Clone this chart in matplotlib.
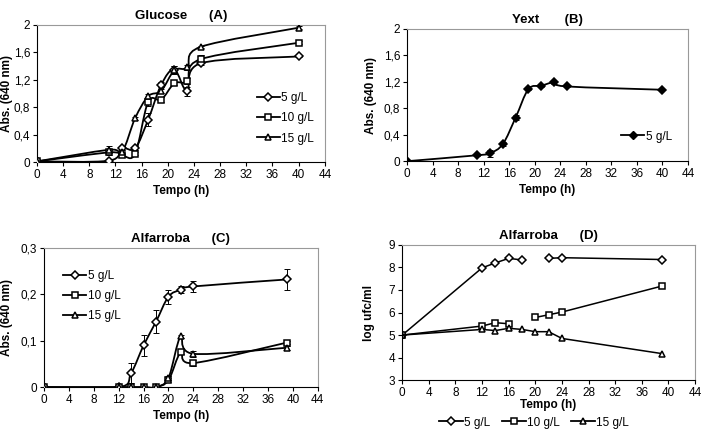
import matplotlib
matplotlib.use('Agg')
import matplotlib.pyplot as plt
import numpy as np
from matplotlib.path import Path
from matplotlib.patches import PathPatch
from matplotlib.lines import Line2D
from matplotlib.ticker import FuncFormatter

plt.rcParams['font.family'] = ['Liberation Sans', 'DejaVu Sans']

# ---------------- dados ----------------
# (A) Glucose
t_a = [0, 11, 13, 15, 17, 19, 21, 23, 25, 40]
a_5 = [0.01, 0.02, 0.20, 0.20, 0.62, 1.13, 1.35, 1.03, 1.44, 1.54]
a_10 = [0.01, 0.14, 0.10, 0.12, 0.88, 0.91, 1.15, 1.18, 1.50, 1.74]
a_15 = [0.01, 0.18, 0.15, 0.64, 0.96, 1.04, 1.34, 1.38, 1.68, 1.96]
a_5_err = [0, 0.01, 0.03, 0.03, 0.10, 0.04, 0.05, 0.06, 0.03, 0.01]
a_10_err = [0, 0.03, 0.02, 0.02, 0.06, 0.04, 0.02, 0.04, 0.06, 0.02]
a_15_err = [0, 0.05, 0.02, 0.02, 0.04, 0.03, 0.06, 0.04, 0.02, 0.02]

# (B) Yext
t_b = [0, 11, 13, 15, 17, 19, 21, 23, 25, 40]
b_5 = [0.0, 0.09, 0.12, 0.26, 0.66, 1.09, 1.14, 1.19, 1.13, 1.08]
b_5_err = [0, 0.01, 0.05, 0.03, 0.04, 0.02, 0.02, 0.02, 0.01, 0.01]

# (C) Alfarroba, absorvancia
t_c = [0, 12, 14, 16, 18, 20, 22, 24, 39]
c_5 = [0, 0, 0.030, 0.090, 0.141, 0.195, 0.210, 0.217, 0.232]
c_10 = [0, 0, 0, 0, 0, 0.015, 0.075, 0.052, 0.096]
c_15 = [0, 0, 0, 0, 0, 0.020, 0.110, 0.072, 0.085]
c_5_err = [0, 0, 0.022, 0.022, 0.025, 0.015, 0.008, 0.012, 0.022]
c_10_err = [0, 0, 0, 0, 0, 0.004, 0.004, 0.007, 0.004]
c_15_err = [0, 0, 0, 0, 0, 0.004, 0.003, 0.007, 0.004]

# (D) Alfarroba, log ufc/ml
t_d = [0, 12, 14, 16, 18, 20, 22, 24, 39]
d_5 = [5.0, 7.98, 8.2, 8.4, 8.33, np.nan, 8.4, 8.43, 8.35]
d_10 = [5.0, 5.4, 5.55, 5.5, np.nan, 5.78, 5.9, 6.02, 7.17]
d_15 = [5.0, 5.25, 5.2, 5.3, 5.25, 5.15, 5.15, 4.85, 4.18]

labels = ['5 g/L', '10 g/L', '15 g/L']
markers = ['D', 's', '^']
msizes = [4, 5, 5]

FS = 8.5


def comma(v, pos):
    s = ('%g' % v)
    return s.replace('.', ',')


def smooth(ax, x, y):
    # curva suavizada tipo Excel (Bezier cubica / Catmull-Rom)
    p = np.column_stack([x, y]).astype(float)
    n = len(p)
    verts = [p[0]]
    codes = [Path.MOVETO]
    for i in range(n - 1):
        p0 = p[i - 1] if i > 0 else p[i]
        p3 = p[i + 2] if i + 2 < n else p[i + 1]
        c1 = p[i] + (p[i + 1] - p0) / 6.0
        c2 = p[i + 1] - (p3 - p[i]) / 6.0
        verts += [c1, c2, p[i + 1]]
        codes += [Path.CURVE4] * 3
    ax.add_patch(PathPatch(Path(verts, codes), fill=False, lw=1.3,
                           edgecolor='black', zorder=2))


def style(ax, xmax, ylim, yticks, ylabel, lx):
    ax.set_xlim(0, xmax)
    ax.set_ylim(*ylim)
    ax.set_xticks(range(0, 45, 4))
    ax.set_yticks(yticks)
    ax.yaxis.set_major_formatter(FuncFormatter(comma))
    ax.tick_params(labelsize=FS, direction='out', length=3, width=0.8,
                   pad=2)
    for s in ['top', 'right']:
        ax.spines[s].set_color('#999999')
    for s in ['left', 'bottom']:
        ax.spines[s].set_color('black')
    for sp in ax.spines.values():
        sp.set_linewidth(0.8)
    ax.set_xlabel('Tempo (h)', fontsize=FS, fontweight='bold', labelpad=3)
    ax.set_ylabel(ylabel, fontsize=FS, fontweight='bold')
    ax.yaxis.set_label_coords(lx, 0.5)


def pts(ax, x, y, err, m, ms, fc):
    if err is not None:
        ax.errorbar(x, y, yerr=err, fmt='none', ecolor='black', elinewidth=0.7,
                    capsize=2, capthick=0.7, zorder=3)
    ax.plot(x, y, linestyle='none', marker=m, ms=ms, mfc=fc, mec='black',
            mew=1.1, zorder=4)


fig = plt.figure(figsize=(7.02, 4.38), dpi=100)

# ---- A ----
axA = fig.add_axes([0.0527, 0.630, 0.410, 0.313])
for y, e, m, ms in zip([a_5, a_10, a_15], [a_5_err, a_10_err, a_15_err], markers, msizes):
    smooth(axA, t_a, y)
    pts(axA, t_a, y, e, m, ms, 'white')
style(axA, 44, (0, 2), [0, 0.4, 0.8, 1.2, 1.6, 2], 'Abs. (640 nm)', -0.083)
axA.set_title('Glucose      (A)', fontsize=9.5, fontweight='bold', pad=4)
hA = [Line2D([], [], color='black', lw=1.3, marker=m, ms=ms, mfc='white', mec='black', mew=1.1)
      for m, ms in zip(markers, msizes)]
axA.legend(hA, labels, loc='lower right', bbox_to_anchor=(1.0, 0.05), frameon=False,
           fontsize=FS, handlelength=2.0, handletextpad=0.1, labelspacing=0.7)

# ---- B ----
axB = fig.add_axes([0.580, 0.632, 0.400, 0.302])
smooth(axB, t_b, b_5)
pts(axB, t_b, b_5, b_5_err, 'D', 4, 'black')
style(axB, 44, (0, 2), [0, 0.4, 0.8, 1.2, 1.6, 2], 'Abs. (640 nm)', -0.107)
axB.set_title('Yext       (B)', fontsize=9.5, fontweight='bold', pad=4)
hB = [Line2D([], [], color='black', lw=1.3, marker='D', ms=4, mfc='black', mec='black')]
axB.legend(hB, ['5 g/L'], loc='lower right', bbox_to_anchor=(0.98, 0.06), frameon=False,
           fontsize=FS, handlelength=2.0, handletextpad=0.1)

# ---- C ----
axC = fig.add_axes([0.0627, 0.116, 0.390, 0.318])
for y, e, m, ms in zip([c_5, c_10, c_15], [c_5_err, c_10_err, c_15_err], markers, msizes):
    smooth(axC, t_c, y)
    pts(axC, t_c, y, e, m, ms, 'white')
style(axC, 44, (0, 0.3), [0, 0.1, 0.2, 0.3], 'Abs. (640 nm)', -0.113)
axC.set_title('Alfarroba      (C)', fontsize=9.5, fontweight='bold', pad=4)
axC.legend(hA, labels, loc='upper left', bbox_to_anchor=(0.03, 0.92), frameon=False,
           fontsize=FS, handlelength=2.0, handletextpad=0.1, labelspacing=0.7)

# ---- D ----
axD = fig.add_axes([0.573, 0.132, 0.417, 0.309])
for y, m, ms in zip([d_5, d_10, d_15], markers, msizes):
    axD.plot(t_d, y, color='black', lw=1.1, marker=m, ms=ms, mfc='white',
             mec='black', mew=1.1)
style(axD, 44, (3, 9), [3, 4, 5, 6, 7, 8, 9], 'log ufc/ml', -0.092)
axD.xaxis.labelpad = 0
axD.set_title('Alfarroba      (D)', fontsize=9.5, fontweight='bold', pad=4)
axD.legend(hA, labels, loc='upper center', bbox_to_anchor=(0.45, -0.19), frameon=False,
           fontsize=FS, ncol=3, handlelength=2.0, handletextpad=0.1, columnspacing=1.0)

fig.savefig('out.png', dpi=100)
